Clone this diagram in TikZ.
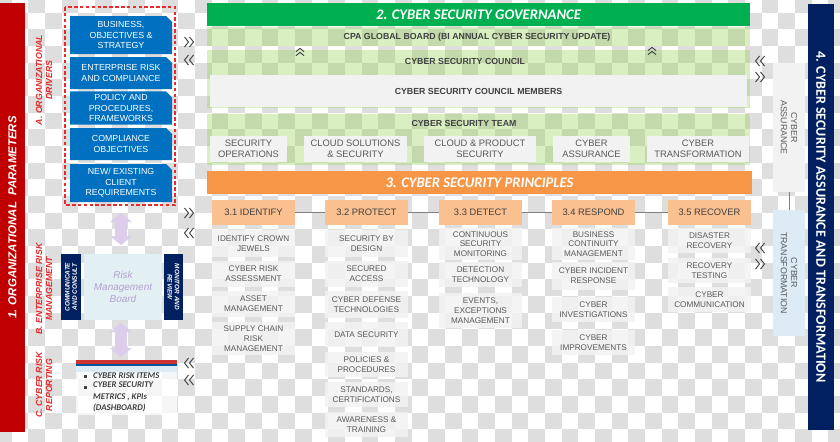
\documentclass[tikz,border=0pt]{standalone}
\usepackage{fontspec}
\setmainfont{Liberation Sans}
\newfontfamily\calfont{Carlito}
\usetikzlibrary{positioning,shapes.misc}
\definecolor{orgred}{HTML}{C00000}
\definecolor{lblred}{HTML}{E52B2B}
\definecolor{drvblue}{HTML}{0070C0}
\definecolor{navy}{HTML}{002060}
\definecolor{govgreen}{HTML}{00B050}
\definecolor{bandgreen}{HTML}{92D050}
\definecolor{prinorange}{HTML}{F79646}
\definecolor{headorange}{HTML}{FAC090}
\definecolor{boxgray}{HTML}{F2F2F2}
\definecolor{txtgray}{HTML}{595959}
\definecolor{darktxt}{HTML}{404040}
\definecolor{checker}{RGB}{222,222,222}
\definecolor{lilac}{HTML}{DCCDEB}
\definecolor{lilactxt}{HTML}{B4A0D2}
\definecolor{boardbg}{HTML}{E2F0F3}
\definecolor{transblue}{HTML}{DDEBF7}
\definecolor{linkgray}{HTML}{7F7F7F}
\tikzset{
  wh/.style 2 args={minimum width=#1*0.03cm,minimum height=#2*0.03cm},
  bigbar/.style={inner sep=0pt,text=white,font=\calfont\bfseries\itshape\fontsize{12.5}{14}\selectfont},
  redlabel/.style={text=lblred,font=\bfseries\itshape\fontsize{7.5}{8.5}\selectfont,align=center,rotate=90},
  drvbox/.style={chamfered rectangle,chamfered rectangle corners=north east,
    chamfered rectangle xsep=2.5pt,chamfered rectangle ysep=2.5pt,
    fill=drvblue,text=white,inner sep=0pt,align=center,font=\fontsize{7.5}{9}\selectfont},
  govtext/.style={text=darktxt,font=\bfseries\fontsize{7.5}{9}\selectfont},
  band/.style={fill=bandgreen,fill opacity=0.35},
  teambox/.style={fill=boxgray,text=txtgray,inner sep=0pt,align=center,font=\fontsize{8}{9.3}\selectfont},
  headbox/.style={fill=headorange,text=darktxt,inner sep=0pt,wh={83}{25},font=\fontsize{8}{9}\selectfont},
  itembox/.style={fill=boxgray,fill opacity=0.85,text opacity=1,text=txtgray,inner sep=0pt,
    align=center,font=\fontsize{7}{8.3}\selectfont},
  navybox/.style={fill=navy,text=white,inner sep=0pt,align=center,font=\bfseries\itshape\fontsize{5.5}{6.3}\selectfont},
  sidebox/.style={text=txtgray,inner sep=0pt,align=center,rotate=-90,font=\fontsize{7.5}{8.8}\selectfont},
  bullettext/.style={text=darktxt,inner sep=0pt,align=left,font=\calfont\bfseries\itshape\fontsize{7.5}{10}\selectfont},
  linkline/.style={draw=linkgray,line width=0.5pt},
  chevron/.style={draw=darktxt,line width=0.8pt},
  dchev/.pic={\draw[chevron] (-4.5,-5) -- (-0.5,0) -- (-4.5,5) (0.5,-5) -- (4.5,0) -- (0.5,5);},
  updown/.pic={\fill[lilac] (0,0) -- (11,9) -- (6,9) -- (6,#1-9) -- (11,#1-9) -- (0,#1)
    -- (-11,#1-9) -- (-6,#1-9) -- (-6,9) -- (-11,9) -- cycle;}
}
\begin{document}
\begin{tikzpicture}[x=0.03cm,y=-0.03cm]
\useasboundingbox (0,0) rectangle (840,441);
% background squares
\begin{scope}
\clip (0,0) rectangle (840,441);
\foreach \i in {0,...,51}{
  \foreach \j in {0,...,27}{
    \pgfmathtruncatemacro\sq{mod(\i+\j,2)}
    \ifnum\sq=0 \fill[checker] ({-5+\i*16.667},{-4+\j*16.667}) rectangle +(16.667,16.667); \fi
  }
}
\end{scope}

% 1. organizational parameters
\node[fill=orgred,wh={429}{25},rotate=90,text=white,inner sep=0pt,
  font=\bfseries\itshape\fontsize{9.8}{12}\selectfont] (orgbar) at (12.5,217.5) {1. ORGANIZATIONAL\ \ PARAMETERS};
\node[redlabel] (lblA) at (44,80) {A. ORGANIZATIONAL\\DRIVERS};
\node[redlabel] (lblB) at (44,289) {B. ENTERPRISE RISK\\MANAGEMENT};
\node[redlabel] (lblC) at (44,385) {C. CYBER RISK\\REPORTING};

\draw[color=lblred,dash pattern=on 3pt off 2pt,line width=1pt] (65,7) rectangle (175,205);
\node[drvbox,wh={102}{38}] (drv1) at (121,35) {BUSINESS,\\OBJECTIVES \&\\STRATEGY};
\node[drvbox,wh={102}{32}] (drv2) at (121,73) {ENTERPRISE RISK\\AND COMPLIANCE};
\node[drvbox,wh={102}{32}] (drv3) at (121,108) {POLICY AND\\PROCEDURES,\\FRAMEWORKS};
\node[drvbox,wh={102}{32}] (drv4) at (121,144) {COMPLIANCE\\OBJECTIVES};
\node[drvbox,wh={102}{38}] (drv5) at (121,183) {NEW/ EXISTING\\CLIENT\\REQUIREMENTS};

\pic at (121,213) {updown=32};
\node[navybox,wh={66}{20},rotate=90] (comm) at (71,287) {COMMUNICATE\\AND CONSULT};
\node[fill=boardbg,wh={78}{66},inner sep=0pt,align=center,text=lilactxt,
  font=\itshape\fontsize{8.5}{10}\selectfont] (board) at (123,287) {Risk\\Management\\Board};
\node[navybox,wh={66}{19},rotate=-90] (monitor) at (173.5,287) {MONITOR AND\\REVIEW};
\pic at (121,323) {updown=34};

\fill[white,fill opacity=0.7] (76,360) rectangle (177,415);
\fill[orgred!80] (76,360) rectangle (177,364);
\fill[drvblue!60!navy] (76,364) rectangle (177,366);
\fill[transblue] (76,366) rectangle (177,372);
\fill[darktxt] (84,374.5) rectangle +(3,3);
\fill[darktxt] (84,385.5) rectangle +(3,3);
\node[bullettext,anchor=west] (rep1) at (93,376) {CYBER RISK ITEMS};
\node[bullettext,anchor=north west] (rep2) at (93,381.5) {CYBER SECURITY\\METRICS , KPIs\\(DASHBOARD)};

\pic at (189,42) {dchev};
\pic[rotate=180] at (189,60) {dchev};
\pic at (189,213) {dchev};
\pic[rotate=180] at (189,233) {dchev};
\pic[rotate=180] at (189,363) {dchev};
\pic[rotate=180] at (189,380) {dchev};

% 2. governance
\node[bigbar,fill=govgreen,wh={543}{23}] (gov) at (478.5,14.5) {2. CYBER SECURITY GOVERNANCE};
\fill[band] (207,27) rectangle (750,46);
\fill[band] (207,50) rectangle (750,108);
\fill[band] (207,114) rectangle (750,165);
\node[govtext] (cpa) at (477,37) {CPA GLOBAL BOARD (BI ANNUAL CYBER SECURITY UPDATE)};
\node[govtext] (council) at (465,61) {CYBER SECURITY COUNCIL};
\node[govtext,fill=boxgray,wh={537}{32}] (members) at (478.5,91) {CYBER SECURITY COUNCIL MEMBERS};
\node[govtext] (team) at (464,123) {CYBER SECURITY TEAM};
\pic[rotate=90,scale=0.8] at (300,52) {dchev};
\pic[rotate=90,scale=0.8] at (652,51) {dchev};
\node[teambox,wh={77}{26}] (secops) at (248.5,149) {SECURITY\\OPERATIONS};
\node[teambox,wh={103}{26}] (cloudsol) at (355.5,149) {CLOUD SOLUTIONS\\\& SECURITY};
\node[teambox,wh={112}{26}] (cloudprod) at (480,149) {CLOUD \& PRODUCT\\SECURITY};
\node[teambox,wh={77}{26}] (cyassur) at (591.5,149) {CYBER\\ASSURANCE};
\node[teambox,wh={102}{26}] (cytrans) at (698,149) {CYBER\\TRANSFORMATION};

% 3. principles
\node[bigbar,fill=prinorange,wh={545}{23}] (prin) at (479.5,182.5) {3. CYBER SECURITY PRINCIPLES};
\node[headbox] (ident) at (253.5,212.5) {3.1 IDENTIFY};
\node[headbox] (prot) at (366.5,212.5) {3.2 PROTECT};
\node[headbox] (detect) at (480.5,212.5) {3.3 DETECT};
\node[headbox] (resp) at (593.5,212.5) {3.4 RESPOND};
\node[headbox] (recov) at (709.5,212.5) {3.5 RECOVER};
\draw[linkline] (ident) -- (prot);
\draw[linkline] (prot) -- (detect);
\draw[linkline] (detect) -- (resp);
\draw[linkline] (resp) -- (recov);

\node[itembox,wh={83}{27}] (id1) at (253.5,243.5) {IDENTIFY CROWN\\JEWELS};
\node[itembox,wh={83}{26}] (id2) at (253.5,274) {CYBER RISK\\ASSESSMENT};
\node[itembox,wh={83}{26}] (id3) at (253.5,304) {ASSET\\MANAGEMENT};
\node[itembox,wh={83}{33}] (id4) at (253.5,338.5) {SUPPLY CHAIN\\RISK\\MANAGEMENT};

\node[itembox,wh={83}{27}] (pr1) at (366.5,243.5) {SECURITY BY\\DESIGN};
\node[itembox,wh={83}{26}] (pr2) at (366.5,274) {SECURED\\ACCESS};
\node[itembox,wh={83}{27}] (pr3) at (366.5,304.5) {CYBER DEFENSE\\TECHNOLOGIES};
\node[itembox,wh={83}{25}] (pr4) at (366.5,334.5) {DATA SECURITY};
\node[itembox,wh={83}{25}] (pr5) at (366.5,364.5) {POLICIES \&\\PROCEDURES};
\node[itembox,wh={83}{25}] (pr6) at (366.5,394.5) {STANDARDS,\\CERTIFICATIONS};
\node[itembox,wh={83}{25}] (pr7) at (366.5,424.5) {AWARENESS \&\\TRAINING};

\node[itembox,wh={83}{32}] (de1) at (480.5,244) {CONTINUOUS\\SECURITY\\MONITORING};
\node[itembox,wh={83}{25}] (de2) at (480.5,274.5) {DETECTION\\TECHNOLOGY};
\node[itembox,wh={83}{35}] (de3) at (480.5,310.5) {EVENTS,\\EXCEPTIONS\\MANAGEMENT};

\node[itembox,wh={83}{32}] (rs1) at (593.5,244) {BUSINESS\\CONTINUITY\\MANAGEMENT};
\node[itembox,wh={83}{28}] (rs2) at (593.5,276) {CYBER INCIDENT\\RESPONSE};
\node[itembox,wh={83}{25}] (rs3) at (593.5,309.5) {CYBER\\INVESTIGATIONS};
\node[itembox,wh={83}{25}] (rs4) at (593.5,342.5) {CYBER\\IMPROVEMENTS};

\node[itembox,wh={83}{25}] (rc1) at (709.5,240.5) {DISASTER\\RECOVERY};
\node[itembox,wh={83}{25}] (rc2) at (709.5,270.5) {RECOVERY\\TESTING};
\node[itembox,wh={83}{25}] (rc3) at (709.5,299.5) {CYBER\\COMMUNICATION};

% 4. assurance and transformation
\pic[rotate=180] at (760,61) {dchev};
\pic at (760,77) {dchev};
\pic[rotate=180] at (760,248) {dchev};
\pic at (760,264) {dchev};
\node[sidebox,fill=boxgray,wh={129}{32}] (cass) at (789,127.5) {CYBER\\ASSURANCE};
\node[sidebox,fill=transblue,wh={126}{32}] (ctrans) at (789,273) {CYBER\\TRANSFORMATION};
\draw[linkline] (cass) -- (ctrans);
\node[fill=navy,wh={426}{26},rotate=-90,inner sep=0pt,text=white,
  font=\calfont\bfseries\fontsize{12}{14}\selectfont] (assurbar) at (821,217) {4. CYBER SECURITY ASSURANCE AND TRANSFORMATION};
\end{tikzpicture}
\end{document}
